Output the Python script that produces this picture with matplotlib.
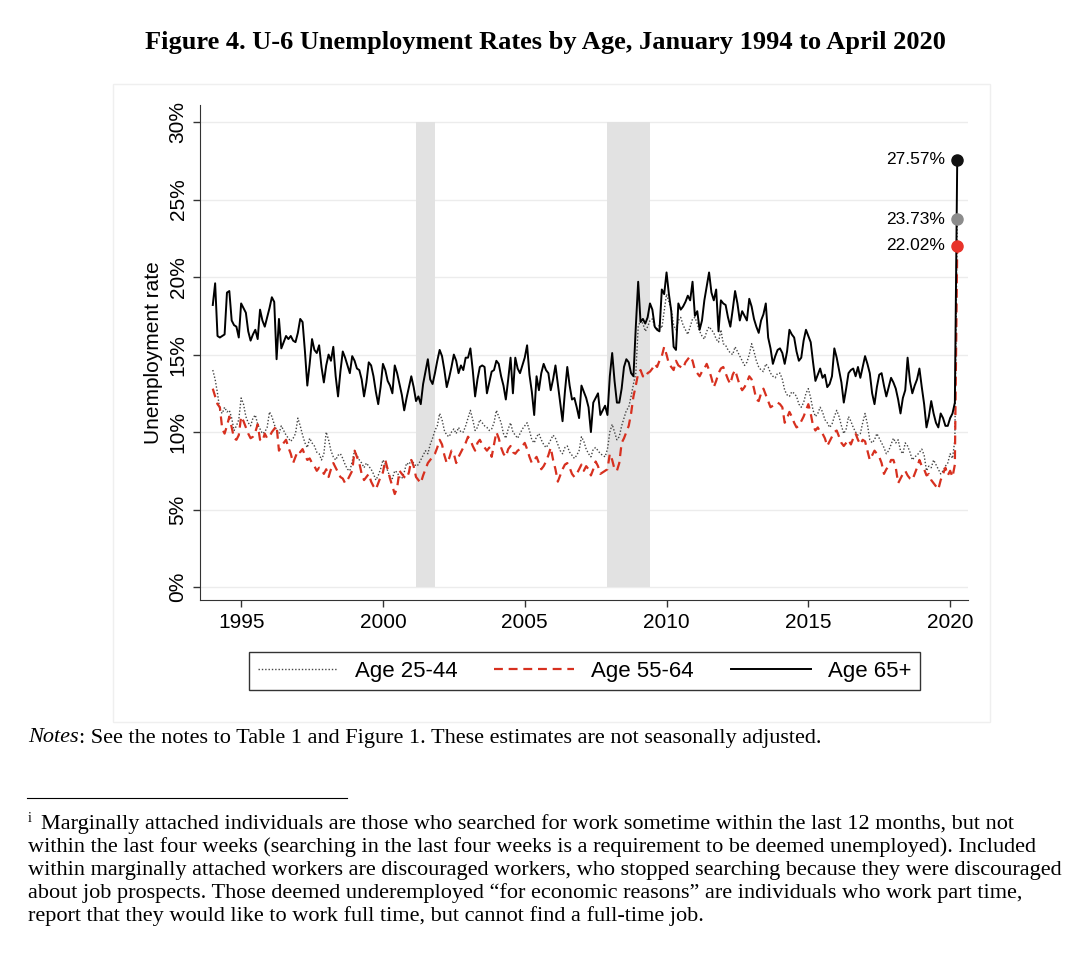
import numpy as np
import matplotlib
matplotlib.use('Agg')
import matplotlib.pyplot as plt
from matplotlib.patches import Rectangle
from matplotlib.lines import Line2D

plt.rcParams['font.family'] = ['Liberation Sans', 'DejaVu Sans']

# monthly U-6 rates (%), Jan 1994 .. Apr 2020
age_25_44 = [
    14.0, 13.4, 12.5, 11.4, 11.2, 11.6, 11.3, 11.4, 10.9, 10.1, 10.4, 10.8,  # 1994
    12.2, 11.8, 11.0, 10.6, 10.4, 10.9, 11.1, 10.5, 10.2, 9.9, 10.0, 10.3,   # 1995
    11.3, 11.0, 10.5, 10.1, 9.9, 10.4, 10.1, 9.8, 9.6, 9.4, 9.6, 9.9,        # 1996
    10.9, 10.4, 9.8, 9.3, 9.0, 9.6, 9.3, 9.1, 8.7, 8.6, 8.2, 8.6,            # 1997
    10.0, 9.5, 8.8, 8.4, 8.2, 8.5, 8.6, 8.3, 7.9, 7.6, 7.5, 8.1,             # 1998
    8.8, 8.5, 8.2, 8.0, 7.7, 8.0, 7.8, 7.6, 7.3, 6.9, 7.2, 7.6,              # 1999
    8.2, 7.9, 7.5, 7.1, 7.0, 7.5, 7.4, 7.1, 7.0, 7.4, 8.0, 7.9,              # 2000
    8.2, 8.0, 7.8, 7.9, 8.2, 8.5, 8.8, 8.6, 9.2, 9.6, 10.1, 10.4,            # 2001
    11.2, 10.8, 10.1, 9.8, 9.7, 10.0, 10.2, 9.9, 10.3, 10.0, 10.0, 10.4,     # 2002
    10.9, 11.4, 10.8, 10.1, 10.3, 10.8, 10.6, 10.4, 10.3, 10.1, 10.2, 10.6,  # 2003
    11.4, 11.0, 10.6, 9.9, 9.6, 10.2, 10.6, 10.0, 9.8, 9.6, 9.9, 10.2,       # 2004
    10.4, 10.6, 10.1, 9.5, 9.3, 9.7, 9.9, 9.5, 9.2, 9.0, 9.2, 9.5,           # 2005
    9.8, 9.6, 9.2, 8.8, 8.6, 9.0, 9.1, 8.7, 8.5, 8.3, 8.5, 8.8,              # 2006
    9.7, 9.4, 8.9, 8.6, 8.4, 8.9, 9.0, 8.8, 8.6, 8.5, 8.4, 8.9,              # 2007
    10.0, 10.5, 10.0, 9.5, 9.7, 10.4, 10.9, 11.4, 11.6, 12.3, 13.1, 13.8,    # 2008
    16.8, 17.2, 17.0, 16.5, 16.8, 17.2, 17.3, 16.8, 16.6, 16.9, 16.7, 17.8,  # 2009
    18.9, 18.4, 17.9, 16.9, 16.6, 17.2, 17.4, 16.9, 16.6, 16.3, 16.8, 17.3,  # 2010
    17.4, 17.0, 16.5, 16.2, 16.0, 16.5, 16.8, 16.6, 16.4, 16.0, 15.8, 16.6,  # 2011
    15.7, 15.6, 15.3, 15.1, 15.0, 15.5, 15.2, 14.9, 14.6, 14.3, 14.5, 15.0,  # 2012
    15.7, 15.2, 14.6, 14.2, 14.0, 13.9, 14.4, 14.2, 13.8, 13.6, 13.5, 13.8,  # 2013
    13.8, 13.4, 12.7, 12.4, 12.3, 12.6, 12.5, 12.3, 11.8, 11.6, 11.9, 12.5,  # 2014
    12.8, 12.2, 11.4, 11.0, 11.2, 11.6, 11.3, 10.8, 10.6, 10.3, 10.5, 11.0,  # 2015
    11.4, 11.0, 10.4, 9.9, 10.2, 11.0, 10.7, 10.3, 10.0, 9.8, 9.9, 10.6,     # 2016
    11.2, 10.5, 9.5, 9.3, 9.5, 9.9, 9.6, 9.3, 9.0, 8.6, 8.8, 9.2,            # 2017
    9.6, 9.3, 9.5, 8.8, 8.6, 9.3, 9.1, 8.7, 8.2, 8.4, 8.5, 8.7,              # 2018
    8.9, 8.5, 7.5, 7.8, 7.7, 8.2, 7.9, 7.6, 7.3, 7.5, 7.8, 8.0,              # 2019
    8.6, 8.3, 9.5, 23.73,                                                    # 2020
]

age_55_64 = [
    12.8, 12.3, 11.8, 11.6, 10.2, 9.9, 10.4, 11.0, 10.3, 9.6, 9.5, 9.8,      # 1994
    11.0, 10.7, 10.3, 9.9, 9.6, 9.7, 10.0, 10.5, 9.5, 9.4, 9.9, 9.6,         # 1995
    9.7, 10.0, 10.2, 10.4, 8.8, 9.1, 9.3, 9.5, 9.0, 8.6, 8.0, 8.4,           # 1996
    8.8, 8.7, 8.9, 8.5, 8.2, 8.3, 8.0, 7.8, 7.5, 7.7, 7.6, 7.3,              # 1997
    7.6, 7.1, 7.6, 8.0, 7.7, 7.4, 7.1, 7.0, 6.7, 6.9, 7.2, 7.5,              # 1998
    8.8, 8.4, 8.0, 7.3, 6.9, 7.1, 7.3, 6.8, 6.5, 6.3, 6.7, 7.1,              # 1999
    7.4, 8.2, 7.6, 7.0, 6.5, 6.0, 6.4, 7.5, 7.3, 7.1, 7.0, 7.4,              # 2000
    8.2, 7.8, 7.1, 6.9, 6.7, 7.2, 7.6, 8.0, 8.2, 8.4, 8.6, 9.0,              # 2001
    9.5, 9.2, 8.5, 8.0, 8.3, 8.8, 8.6, 8.0, 8.4, 8.7, 9.0, 9.3,              # 2002
    9.7, 9.5, 9.1, 8.8, 9.3, 9.5, 9.2, 9.0, 8.8, 9.0, 8.4, 9.2,              # 2003
    10.0, 9.6, 9.0, 8.6, 8.4, 8.9, 9.1, 8.7, 8.6, 8.8, 8.9, 9.1,             # 2004
    9.3, 8.9, 8.4, 8.0, 8.2, 8.4, 8.0, 7.6, 7.8, 8.1, 8.5, 9.0,              # 2005
    8.2, 7.6, 6.8, 7.2, 7.6, 7.9, 8.0, 7.7, 7.3, 7.1, 7.3, 7.6,              # 2006
    7.9, 7.5, 7.8, 7.6, 7.2, 7.6, 8.1, 7.8, 7.3, 7.4, 7.5, 7.6,              # 2007
    8.6, 8.2, 7.6, 7.5, 8.0, 9.3, 9.6, 10.0, 10.4, 11.2, 12.3, 13.0,         # 2008
    13.8, 14.0, 13.6, 13.5, 13.8, 13.9, 14.1, 14.4, 14.2, 14.6, 14.9, 15.5,  # 2009
    15.0, 14.4, 14.2, 14.0, 14.6, 14.3, 14.2, 14.1, 14.5, 14.7, 14.9, 14.6,  # 2010
    14.0, 13.8, 13.6, 13.9, 14.1, 14.4, 14.0, 13.5, 12.9, 13.3, 13.8, 14.1,  # 2011
    14.2, 13.8, 13.4, 13.1, 13.7, 14.0, 13.5, 13.0, 12.7, 12.9, 13.2, 13.6,  # 2012
    13.4, 12.8, 12.1, 12.0, 12.5, 12.8, 12.4, 12.0, 11.6, 11.7, 11.8, 11.9,  # 2013
    11.8, 11.6, 10.6, 10.9, 11.3, 11.0, 10.6, 10.3, 10.4, 10.7, 11.0, 11.4,  # 2014
    11.8, 11.2, 10.4, 10.1, 10.3, 10.0, 9.9, 9.6, 9.1, 9.4, 9.7, 10.0,       # 2015
    10.1, 9.7, 9.3, 9.1, 9.3, 9.5, 9.2, 9.6, 9.9, 9.5, 9.2, 9.5,             # 2016
    9.4, 8.8, 8.2, 8.5, 8.8, 8.6, 8.4, 8.0, 7.3, 7.6, 7.8, 8.2,              # 2017
    8.2, 7.7, 6.7, 7.0, 7.3, 7.5, 7.2, 7.0, 6.9, 7.3, 7.7, 8.2,              # 2018
    7.8, 7.6, 7.2, 7.3, 6.9, 6.7, 6.5, 6.3, 6.9, 7.3, 7.7, 7.2,              # 2019
    7.5, 7.1, 7.9, 22.02,                                                    # 2020
]

age_65_plus = [
    18.2, 19.6, 16.2, 16.1, 16.2, 16.3, 19.0, 19.1, 17.2, 16.9, 16.8, 16.1,  # 1994
    18.3, 18.0, 17.7, 16.5, 15.9, 16.3, 16.6, 16.0, 17.9, 17.2, 16.8, 17.4,  # 1995
    18.0, 18.7, 18.4, 14.7, 17.3, 15.4, 15.8, 16.2, 16.0, 16.2, 15.9, 15.8,  # 1996
    16.4, 17.3, 17.1, 15.2, 13.0, 14.4, 16.0, 15.3, 15.1, 15.6, 14.2, 13.2,  # 1997
    14.3, 15.0, 14.6, 15.5, 13.6, 12.3, 13.9, 15.2, 14.8, 14.3, 13.8, 14.9,  # 1998
    14.6, 14.1, 14.0, 13.4, 12.3, 13.2, 14.5, 14.3, 13.6, 12.6, 11.8, 12.9,  # 1999
    14.4, 14.0, 13.3, 13.0, 12.5, 14.3, 13.8, 13.1, 12.4, 11.4, 12.2, 12.9,  # 2000
    13.6, 12.9, 12.0, 12.3, 11.8, 13.1, 13.9, 14.7, 13.4, 13.1, 13.8, 14.6,  # 2001
    15.3, 14.9, 14.0, 12.9, 13.5, 14.2, 15.0, 14.6, 13.8, 14.3, 14.0, 14.8,  # 2002
    14.8, 15.4, 14.0, 12.3, 13.4, 14.2, 14.3, 14.2, 12.5, 13.2, 13.9, 14.0,  # 2003
    14.6, 14.4, 13.6, 13.0, 12.1, 13.4, 14.8, 12.5, 14.8, 14.1, 13.8, 14.3,  # 2004
    14.8, 15.6, 13.7, 12.6, 11.1, 13.6, 12.7, 13.8, 14.4, 14.0, 13.8, 12.7,  # 2005
    13.4, 14.3, 13.1, 11.9, 10.7, 12.6, 14.2, 13.0, 12.1, 12.2, 11.6, 10.9,  # 2006
    13.0, 12.6, 12.2, 11.6, 10.0, 11.9, 12.2, 12.5, 11.1, 11.4, 11.7, 11.1,  # 2007
    13.6, 15.1, 13.3, 11.9, 11.9, 12.8, 14.2, 14.7, 14.5, 13.8, 13.6, 16.8,  # 2008
    19.7, 17.1, 17.3, 17.0, 17.4, 18.3, 17.9, 16.8, 16.6, 16.5, 19.2, 18.9,  # 2009
    20.3, 18.9, 17.8, 15.5, 15.3, 18.3, 17.9, 18.1, 18.4, 18.8, 18.5, 19.7,  # 2010
    17.5, 17.8, 16.6, 17.2, 18.5, 19.4, 20.3, 19.0, 18.5, 19.2, 16.5, 18.5,  # 2011
    18.3, 18.2, 17.4, 16.8, 17.9, 19.1, 18.3, 17.2, 17.8, 17.5, 17.2, 18.6,  # 2012
    18.1, 17.3, 16.8, 16.4, 17.2, 17.6, 18.3, 16.1, 15.4, 14.4, 14.9, 15.3,  # 2013
    15.4, 15.1, 14.4, 15.2, 16.6, 16.3, 16.1, 15.2, 14.6, 14.8, 15.9, 16.6,  # 2014
    16.2, 15.8, 14.5, 13.3, 13.7, 14.1, 13.5, 13.7, 12.9, 13.1, 13.6, 15.4,  # 2015
    14.8, 14.0, 13.2, 11.9, 12.8, 13.8, 14.0, 14.1, 13.6, 14.2, 13.5, 14.2,  # 2016
    14.9, 14.4, 13.8, 12.5, 11.8, 12.9, 13.7, 13.8, 13.0, 12.3, 12.9, 13.5,  # 2017
    13.2, 12.8, 12.1, 11.2, 12.2, 12.7, 14.8, 13.3, 12.5, 13.0, 13.4, 14.1,  # 2018
    12.9, 11.8, 10.3, 11.0, 12.0, 11.2, 10.6, 10.3, 11.2, 10.9, 10.4, 10.4,  # 2019
    10.9, 11.2, 11.9, 27.57,                                                 # 2020
]

series_labels = ['Age 25-44', 'Age 55-64', 'Age 65+']
start_year = 1994
# NBER recessions: Mar-Nov 2001, Dec 2007-Jun 2009
recessions = [(2001 + 2/12, 2001 + 10/12), (2007 + 11/12, 2009 + 5/12)]
year_ticks = [1995, 2000, 2005, 2010, 2015, 2020]
pct_ticks = [0, 5, 10, 15, 20, 25, 30]

dates = start_year + np.arange(len(age_65_plus)) / 12.0

fig = plt.figure(figsize=(10.8, 9.57), dpi=100)

# faint graph region box
fig.add_artist(Rectangle((0.1046, 0.2456), 0.812, 0.6667, transform=fig.transFigure,
                         facecolor='white', edgecolor='#efefef', lw=1.0, zorder=0))

ax = fig.add_axes([0.1852, 0.373, 0.7111, 0.5172])
ax.set_facecolor('none')

for a, b in recessions:
    ax.fill_between([a, b], 0, 30, color='#e2e2e2', lw=0, zorder=1)

l1, = ax.plot(dates, age_25_44, color='#444444', lw=1.0, ls=(0, (1, 1.4)), zorder=3)
l2, = ax.plot(dates, age_55_64, color='#d7301f', lw=1.6, ls=(0, (4, 2.6)), zorder=3)
l3, = ax.plot(dates, age_65_plus, color='black', lw=1.4, zorder=4)

for vals, c in [(age_65_plus, '#111111'), (age_25_44, '#8c8c8c'), (age_55_64, '#e8332a')]:
    ax.plot(dates[-1], vals[-1], 'o', color=c, ms=8, zorder=6)
    ax.annotate('%.2f%%' % vals[-1], (dates[-1], vals[-1]), xytext=(-9, 0),
                textcoords='offset points', ha='right', va='center', fontsize=12.5)

ax.set_xlim(1993.55, 2020.63)
ax.set_ylim(-0.84, 31.1)
ax.set_xticks(year_ticks)
ax.set_yticks(pct_ticks)
ax.set_yticklabels(['%d%%' % p for p in pct_ticks])
for lab in ax.get_yticklabels():
    lab.set_rotation(90)
    lab.set_va('center')
ax.tick_params(axis='both', direction='out', length=5, width=1, color='#333333',
               labelsize=15, pad=4)
ax.yaxis.grid(True, color='#ececec', lw=1)
ax.set_axisbelow(True)
for s in ['top', 'right']:
    ax.spines[s].set_visible(False)
for s in ['left', 'bottom']:
    ax.spines[s].set_color('#333333')
ax.set_ylabel('Unemployment rate', fontsize=15)
ax.yaxis.set_label_coords(-0.048, 0.5)

leg = fig.legend([l1, l2, l3], series_labels, loc='center',
                 bbox_to_anchor=(0.2306, 0.2769, 0.6213, 0.0439), mode='expand',
                 ncol=3, fontsize=16, handlelength=3.6, handletextpad=0.75,
                 borderaxespad=0, fancybox=False, edgecolor='black')
leg.get_frame().set_linewidth(1.0)

serif = 'Liberation Serif'
fig.text(0.505, 1 - 42/957, 'Figure 4. U-6 Unemployment Rates by Age, January 1994 to April 2020',
         ha='center', va='center', fontsize=19, fontweight='bold', family=serif)

notes = fig.text(28/1080, 1 - 738/957, 'Notes', style='italic', family=serif,
                 fontsize=16, va='center')
ax.annotate(': See the notes to Table 1 and Figure 1. These estimates are not seasonally adjusted.',
            xy=(1, 0), xycoords=notes, va='bottom', ha='left', fontsize=16,
            family=serif, annotation_clip=False)

fig.add_artist(Line2D([27/1080, 347/1080], [1 - 798/957] * 2, color='black', lw=0.8))

foot = [
    'Marginally attached individuals are those who searched for work sometime within the last 12 months, but not',
    'within the last four weeks (searching in the last four weeks is a requirement to be deemed unemployed). Included',
    'within marginally attached workers are discouraged workers, who stopped searching because they were discouraged',
    'about job prospects. Those deemed underemployed \u201cfor economic reasons\u201d are individuals who work part time,',
    'report that they would like to work full time, but cannot find a full-time job.',
]
fig.text(28/1080, 1 - 818/957, 'i', family=serif, fontsize=10, va='center')
for i, line in enumerate(foot):
    x0 = 41 if i == 0 else 28
    fig.text(x0/1080, 1 - (824 + 23*i)/957, line, family=serif, fontsize=16, va='center')

fig.savefig('out.png', dpi=100)
